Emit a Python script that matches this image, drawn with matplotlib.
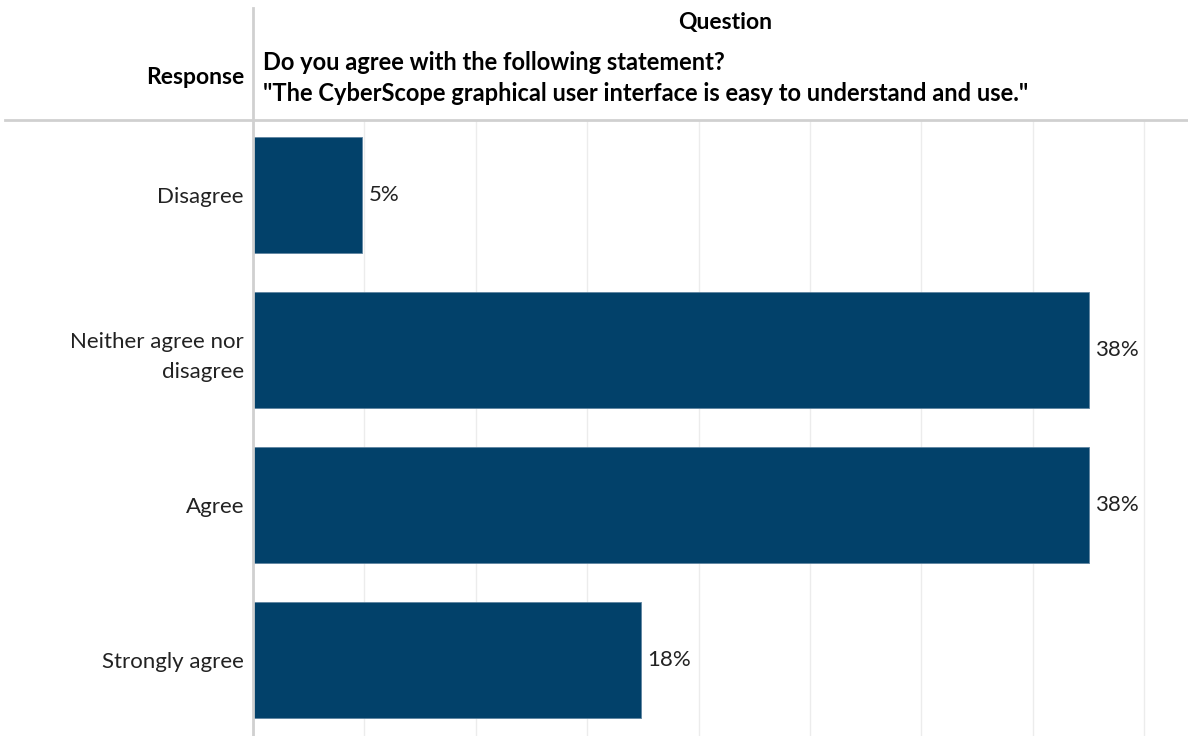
import matplotlib.pyplot as plt
from matplotlib.ticker import MultipleLocator

responses = ["Disagree", "Neither agree nor\ndisagree", "Agree", "Strongly agree"]
shares = [0.049, 0.375, 0.375, 0.174]
labels = ["5%", "38%", "38%", "18%"]

question = ('Do you agree with the following statement?\n'
            '"The CyberScope graphical user interface is easy to understand and use."')

plt.rcParams['font.family'] = ['Lato', 'DejaVu Sans']

W, H = 1188, 736
fig = plt.figure(figsize=(W / 100, H / 100), dpi=100)

# область графика: слева от x=253, сверху от y=120
left, top = 253, 120
ax = fig.add_axes([left / W, 0, 1 - left / W, (H - top) / H])

y = range(len(responses))
ax.barh(y, shares, height=0.75, color='#02416a', edgecolor='#5f84a0', linewidth=0.6, zorder=3)

for yi, v, lab in zip(y, shares, labels):
    ax.text(v + 0.003, yi, lab, va='center', ha='left', fontsize=16, color='#222222')

ax.xaxis.set_major_locator(MultipleLocator(0.05))
ax.set_xlim(0, (W - left) / 22.28 / 100)
ax.set_ylim(3.49, -0.484)
ax.grid(axis='x', color='#ececec', linewidth=1, zorder=0)
ax.tick_params(axis='x', length=0, labelbottom=False)

ax.set_yticks(list(y))
ax.set_yticklabels(responses, fontsize=16, color='#222222', linespacing=1.6)
ax.tick_params(axis='y', length=0, pad=6.5)

for s in ['top', 'right', 'bottom', 'left']:
    ax.spines[s].set_visible(False)

# заголовок таблицы и разделительные линии
fig.add_artist(plt.Line2D([5 / W, 1], [(H - 120) / H] * 2, color='#d0d0d0', linewidth=2))
fig.add_artist(plt.Line2D([left / W] * 2, [0, (H - 8) / H], color='#d0d0d0', linewidth=2))

fig.text(725 / W, 1 - 23 / H, 'Question', ha='center', va='center', fontsize=16.5, fontweight='bold')
fig.text(263 / W, 1 - 78 / H, question, ha='left', va='center', fontsize=17,
         fontweight='bold', linespacing=1.38)
fig.text(244 / W, 1 - 78 / H, 'Response', ha='right', va='center', fontsize=16.5, fontweight='bold')

fig.savefig('out.png', dpi=100, facecolor='white')
